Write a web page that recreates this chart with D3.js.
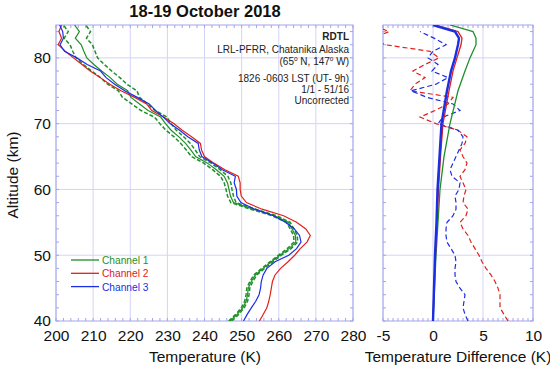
<!DOCTYPE html>
<html>
<head>
<meta charset="utf-8">
<script src="https://cdn.jsdelivr.net/npm/d3@7"></script>
<style>
body { margin: 0; background: #fff; }
svg { font-family: "Liberation Sans", Arial, sans-serif; }
</style>
</head>
<body>
<svg id="chart" width="550" height="372"></svg>
<script>
// altitude grid (km) for the temperature profiles
var alts = d3.range(40, 86);

// Channel 1 / 2 / 3 temperature (K), one value per km from 40 to 85
var ch1 = [246.9,248.8,250.3,251.2,251.6,251.8,252.6,253.7,255.8,258.0,
  260.3,262.8,264.6,264.5,263.6,262.6,258.8,253.1,247.8,247.0,
  246.6,246.2,245.3,243.2,240.8,237.6,236.3,234.9,233.1,231.0,
  229.5,228.2,224.8,222.5,220.2,219.3,216.5,214.6,212.3,210.2,
  208.3,207.5,206.8,205.2,206.3,205.0];
var ch2 = [254.8,255.8,256.8,257.3,257.7,258.0,258.3,259.0,260.5,262.5,
  264.3,265.8,267.6,268.5,267.3,264.8,261.3,255.5,251.3,249.9,
  249.6,249.6,249.1,245.5,242.5,240.0,239.2,238.9,236.5,234.0,
  231.8,229.0,225.8,224.4,221.2,217.5,214.5,211.9,209.2,207.0,
  204.7,202.5,200.6,201.5,200.8,201.5];
var ch3 = [250.5,251.5,252.6,253.8,254.7,255.1,255.3,255.8,256.8,259.0,
  262.7,264.8,266.0,265.6,264.2,261.8,258.6,253.5,249.8,248.7,
  248.6,248.0,248.3,244.8,242.3,239.3,238.6,238.3,235.5,233.3,
  230.8,228.9,226.8,225.1,221.9,218.5,215.8,213.5,212.0,208.4,
  205.6,202.3,201.1,202.0,201.8,201.0];
// Channel 1 uncertainty band (K) drawn as dashed lines either side
var ch1Err = [0.4,0.4,0.4,0.4,0.4,0.4,0.4,0.4,0.4,0.4,
  0.4,0.5,0.5,0.5,0.5,0.5,0.6,0.7,0.7,0.8,
  0.8,0.9,1.0,1.0,1.0,1.1,1.2,1.3,1.3,1.4,
  1.5,1.7,1.9,2.1,2.3,2.5,2.6,2.6,2.7,2.8,
  2.9,3.0,3.0,3.0,3.0,3.0];

// right panel: uncertainty (solid) at these altitudes
var errAlts = [40,45,50,55,60,65,70,75,78,80,82,83,84,85];
var err1 = [0,0.15,0.3,0.5,0.7,1.1,1.7,2.5,3.2,3.7,4.3,4.3,4.0,1.7];
var err2 = [0,0.1,0.25,0.4,0.55,0.75,1.0,1.6,2.0,2.4,2.8,2.9,2.5,0.2];
var err3 = [0,0.1,0.2,0.35,0.45,0.65,0.85,1.4,1.8,2.2,2.5,2.6,2.2,0];

// right panel: differences to channel 1 (dashed), per km 40..85
var diff2 = [7.5,7.1,6.7,6.7,6.7,6.5,6.2,5.8,5.3,4.9,
  4.6,4.2,3.8,3.5,3.0,2.7,3.3,3.5,3.0,3.1,
  3.3,3.0,2.7,3.2,3.4,3.0,2.7,3.2,3.4,2.5,
  0.3,-1.3,0.2,1.5,2.0,-2.3,-1.8,-0.8,-2.0,-0.8,
  0.6,-0.3,-4.8,-6.0,-4.4,-6.0];
var diff3 = [3.5,3.2,3.0,3.1,3.2,2.7,2.3,2.2,2.2,2.3,
  2.2,1.8,1.4,1.3,1.3,1.4,2.0,2.3,2.3,2.2,
  2.6,2.7,1.9,1.7,2.0,2.3,2.6,2.9,3.0,2.5,
  0.5,1.0,2.7,2.0,-0.6,-2.2,0.3,1.5,-0.1,0.5,
  -0.5,0.0,1.3,0.1,-1.3,null];

var seriesNames = ["Channel 1", "Channel 2", "Channel 3"];
var seriesColors = ["#1f8f2a", "#e0201a", "#1a2ee6"];
var infoLines = ["LRL-PFRR, Chatanika Alaska", "", "1826 -0603 LST (UT- 9h)", "1/1 - 51/16", "Uncorrected"];

var svg = d3.select("#chart");
var gridCol = "#d4d4f6", frameCol = "#a4a4ea";

var yTop = 25, yBot = 321;
var y = d3.scaleLinear().domain([40, 85]).range([yBot, yTop]);
var xL = d3.scaleLinear().domain([200, 280]).range([56, 353]);
var xR = d3.scaleLinear().domain([-5, 10]).range([383, 533]);

function panel(x, xMajor, xMinor, showY) {
  var g = svg.append("g");
  var x0 = x.range()[0], x1 = x.range()[1];
  // grid
  g.selectAll(".gx").data(xMajor).enter().append("line")
    .attr("x1", function(d){return x(d)}).attr("x2", function(d){return x(d)})
    .attr("y1", yTop).attr("y2", yBot).attr("stroke", gridCol);
  g.selectAll(".gy").data([50,60,70,80]).enter().append("line")
    .attr("x1", x0).attr("x2", x1)
    .attr("y1", function(d){return y(d)}).attr("y2", function(d){return y(d)})
    .attr("stroke", gridCol);
  // minor ticks, inward on all sides
  var yMinor = d3.range(40, 86, 2);
  var t = g.append("g").attr("stroke", frameCol);
  xMinor.forEach(function(v){
    t.append("line").attr("x1", x(v)).attr("x2", x(v)).attr("y1", yBot).attr("y2", yBot - 3);
    t.append("line").attr("x1", x(v)).attr("x2", x(v)).attr("y1", yTop).attr("y2", yTop + 3);
  });
  yMinor.forEach(function(v){
    t.append("line").attr("x1", x0).attr("x2", x0 + 3).attr("y1", y(v)).attr("y2", y(v));
    t.append("line").attr("x1", x1).attr("x2", x1 - 3).attr("y1", y(v)).attr("y2", y(v));
  });
  g.append("rect").attr("x", x0).attr("y", yTop).attr("width", x1 - x0).attr("height", yBot - yTop)
    .attr("fill", "none").attr("stroke", frameCol);

  var xAxis = g.append("g").attr("transform", "translate(0," + yBot + ")")
    .call(d3.axisBottom(x).tickValues(xMajor).tickSize(0).tickPadding(9).tickFormat(function(d){return String(d)}));
  xAxis.select(".domain").remove();
  xAxis.selectAll("text").attr("font-size", 15.5).attr("fill", "#111").attr("font-family", "Liberation Sans, Arial, sans-serif");
  if (showY) {
    var yAxis = g.append("g").attr("transform", "translate(" + x0 + ",0)")
      .call(d3.axisLeft(y).tickValues([40,50,60,70,80]).tickSize(0).tickPadding(5));
    yAxis.select(".domain").remove();
    yAxis.selectAll("text").attr("font-size", 15.5).attr("fill", "#111").attr("font-family", "Liberation Sans, Arial, sans-serif");
  }
  return g;
}

var left = panel(xL, d3.range(200, 281, 10), d3.range(200, 281, 2), true);
var right = panel(xR, [-5,0,5,10], d3.range(-5, 10.01, 0.5), false);

svg.append("defs").append("clipPath").attr("id", "clipR")
  .append("rect").attr("x", 383).attr("y", yTop).attr("width", 150).attr("height", yBot - yTop);
svg.append("defs").append("clipPath").attr("id", "clipL")
  .append("rect").attr("x", 56).attr("y", yTop).attr("width", 297).attr("height", yBot - yTop);

// left panel profiles
var lineL = d3.line().x(function(d){return xL(d[1])}).y(function(d){return y(d[0])});
var gL = left.append("g").attr("clip-path", "url(#clipL)").attr("fill", "none");
var lo = alts.map(function(a, i){return [a, ch1[i] - ch1Err[i]]});
var hi = alts.map(function(a, i){return [a, ch1[i] + ch1Err[i]]});
[lo, hi].forEach(function(s){
  gL.append("path").datum(s).attr("d", lineL).attr("stroke", seriesColors[0])
    .attr("stroke-width", 1.5).attr("stroke-dasharray", "4,2");
});
[ch1, ch2, ch3].forEach(function(s, k){
  gL.append("path").datum(alts.map(function(a, i){return [a, s[i]]})).attr("d", lineL)
    .attr("stroke", seriesColors[k]).attr("stroke-width", 1.2);
});

// legend
var leg = left.append("g");
seriesNames.forEach(function(n, i){
  leg.append("line").attr("x1", 71).attr("x2", 99).attr("y1", 260 + i * 13.3).attr("y2", 260 + i * 13.3)
    .attr("stroke", seriesColors[i]).attr("stroke-width", 1.3);
  leg.append("text").attr("x", 102).attr("y", 264 + i * 13.3).attr("font-size", 10.2)
    .attr("fill", seriesColors[i]).text(n);
});

// info text block
var info = left.append("g").attr("text-anchor", "end").attr("font-size", 10).attr("fill", "#222");
info.append("text").attr("x", 349).attr("y", 39.5).attr("font-weight", "bold").text("RDTL");
var ib = [53, 64.5, 81.5, 92.5, 103.5];
infoLines.forEach(function(s, i){
  if (s) info.append("text").attr("x", 349).attr("y", ib[i]).text(s);
});
var coord = info.append("text").attr("x", 349).attr("y", 64.5);
coord.append("tspan").text("(65");
coord.append("tspan").attr("font-size", 6.5).attr("dy", -4).text("o");
coord.append("tspan").attr("dy", 4).text(" N, 147");
coord.append("tspan").attr("font-size", 6.5).attr("dy", -4).text("o");
coord.append("tspan").attr("dy", 4).text(" W)");

// right panel
var lineR = d3.line().defined(function(d){return d[1] !== null})
  .x(function(d){return xR(d[1])}).y(function(d){return y(d[0])});
var gR = right.append("g").attr("clip-path", "url(#clipR)").attr("fill", "none");
[diff2, diff3].forEach(function(s, k){
  gR.append("path").datum(alts.map(function(a, i){return [a, s[i]]})).attr("d", lineR)
    .attr("stroke", seriesColors[k + 1]).attr("stroke-width", 1.2).attr("stroke-dasharray", "5,3");
});
[err1, err2, err3].forEach(function(s, k){
  gR.append("path").datum(errAlts.map(function(a, i){return [a, s[i]]})).attr("d", lineR)
    .attr("stroke", seriesColors[k]).attr("stroke-width", k == 2 ? 2.4 : 1.3);
});

// titles
svg.append("text").attr("x", 205).attr("y", 17).attr("text-anchor", "middle")
  .attr("font-size", 16.5).attr("font-weight", "bold").attr("fill", "#111").text("18-19 October 2018");
svg.append("text").attr("x", 205).attr("y", 362).attr("text-anchor", "middle")
  .attr("font-size", 15.5).attr("fill", "#111").text("Temperature (K)");
svg.append("text").attr("x", 458).attr("y", 362).attr("text-anchor", "middle")
  .attr("font-size", 15.5).attr("fill", "#111").text("Temperature Difference (K)");
svg.append("text").attr("transform", "translate(18,175) rotate(-90)").attr("text-anchor", "middle")
  .attr("font-size", 15.5).attr("fill", "#111").text("Altitude (km)");
</script>
</body>
</html>
